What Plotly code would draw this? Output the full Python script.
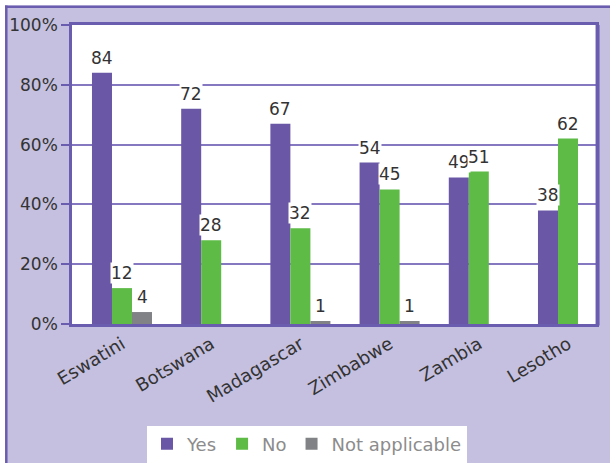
import plotly.graph_objects as go

# Survey responses by country (percent)
countries = ["Eswatini", "Botswana", "Madagascar", "Zimbabwe", "Zambia", "Lesotho"]
yes = [84, 72, 67, 54, 49, 38]
no = [12, 28, 32, 45, 51, 62]
not_applicable = [4, None, 1, 1, None, None]
series_names = ["Yes", "No", "Not applicable"]
y_ticks = [0, 20, 40, 60, 80, 100]

colors = ["#6A58A6", "#5DBB46", "#818285"]
lavender = "#C5C0DF"
frame = "#6A5CAE"
grid = "#8577C0"
font_family = "DejaVu Sans"
text_color = "#333333"

W, H = 610, 463
L, R, T, B = 72, 14, 25, 139
pw, ph = W - L - R, H - T - B

bargap = 0.327
bar_w = (1 - bargap) / 3

fig = go.Figure()
series = [yes, no, not_applicable]
for name, vals, col in zip(series_names, series, colors):
    fig.add_trace(go.Bar(
        name=name, x=countries, y=vals,
        marker=dict(color=col, line=dict(width=0)),
    ))

# value labels above each bar, on a white backing
annotations = []
for k, vals in enumerate(series):
    for i, v in enumerate(vals):
        if v is None:
            continue
        annotations.append(dict(
            x=i + (k - 1) * bar_w, y=v, xref="x", yref="y",
            text=str(v), showarrow=False, yanchor="bottom", yshift=4,
            bgcolor="white", borderpad=0,
            font=dict(family=font_family, size=17, color=text_color),
        ))


def px_x(p):
    return (p - L) / pw


def px_y(p):
    return (H - B - p) / ph


shapes = [
    # white strips along the top and left edges of the figure
    dict(type="rect", xref="paper", yref="paper", layer="below",
         x0=px_x(0), x1=px_x(W), y0=px_y(0), y1=px_y(5.5),
         fillcolor="white", line=dict(width=0)),
    dict(type="rect", xref="paper", yref="paper", layer="below",
         x0=px_x(0), x1=px_x(5), y0=px_y(0), y1=px_y(H),
         fillcolor="white", line=dict(width=0)),
    # outer frame lines
    dict(type="line", xref="paper", yref="paper",
         x0=px_x(5), x1=px_x(W), y0=px_y(6.8), y1=px_y(6.8),
         line=dict(color=frame, width=2.5)),
    dict(type="line", xref="paper", yref="paper",
         x0=px_x(6.3), x1=px_x(6.3), y0=px_y(5.5), y1=px_y(H),
         line=dict(color=frame, width=2.5)),
    # heavier right edge of the plot area
    dict(type="line", xref="paper", yref="paper",
         x0=1.003, x1=1.003, y0=-0.005, y1=1.0,
         line=dict(color=frame, width=4)),
]

fig.update_layout(
    width=W, height=H,
    margin=dict(l=L, r=R, t=T, b=B, autoexpand=False),
    paper_bgcolor=lavender,
    plot_bgcolor="white",
    barmode="group",
    bargap=bargap,
    bargroupgap=0,
    font=dict(family=font_family, color=text_color),
    showlegend=True,
    legend=dict(
        orientation="h", x=px_x(307), xanchor="center",
        y=px_y(444), yanchor="middle",
        bgcolor="white", borderwidth=0,
        font=dict(family=font_family, size=18, color="#8C8C8C"),
        itemwidth=30, tracegroupgap=0,
    ),
    annotations=annotations,
    shapes=shapes,
)

fig.update_xaxes(
    type="category", range=[-0.5605, 5.314],
    showline=True, linecolor=frame, linewidth=2.5, mirror=True,
    showgrid=False, ticks="", tickangle=-31,
    tickfont=dict(family=font_family, size=18, color=text_color),
    automargin=False,
)
fig.update_yaxes(
    range=[0, 100], tickvals=y_ticks, ticktext=[f"{v}%" for v in y_ticks],
    showline=True, linecolor=frame, linewidth=2.5, mirror=True,
    showgrid=True, gridcolor=grid, gridwidth=1.5,
    ticks="outside", ticklen=8, tickcolor=frame, tickwidth=2,
    tickfont=dict(family=font_family, size=17, color=text_color),
    zeroline=False, automargin=False,
)

fig.write_html("out.html")
